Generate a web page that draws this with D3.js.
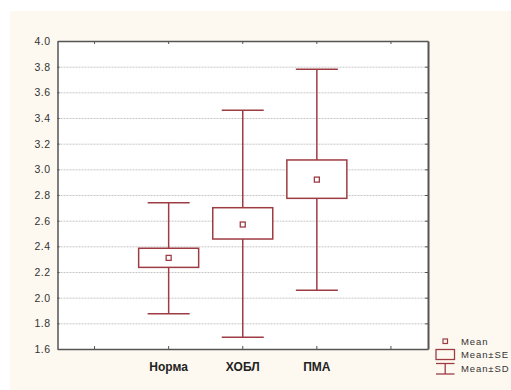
<!DOCTYPE html>
<html><head><meta charset="utf-8">
<script src="https://cdn.jsdelivr.net/npm/d3@7"></script>
<style>body{margin:0;background:#fff}svg{display:block}</style>
</head><body><svg id="c" width="511" height="390"></svg>
<script>
const slots = ["", "Норма", "ХОБЛ", "ПМА", ""];
const categories = ["Норма", "ХОБЛ", "ПМА"];
const means = [2.31, 2.57, 2.92];
const seLow = [2.236, 2.457, 2.774];
const seHigh = [2.385, 2.701, 3.073];
const sdLow = [1.875, 1.691, 2.057];
const sdHigh = [2.74, 3.46, 3.78];
const yTicks = [1.6, 1.8, 2.0, 2.2, 2.4, 2.6, 2.8, 3.0, 3.2, 3.4, 3.6, 3.8, 4.0];
const legendLabels = ["Mean", "Mean±SE", "Mean±SD"];

const col = "#9E3C44";
const svg = d3.select("#c");
svg.append("rect").attr("x",10).attr("y",11).attr("width",501).attr("height",379).attr("fill","#FDF9F0");

const L = 57.5, T = 41, R = 428, B = 349;
const x = d3.scaleBand().domain(d3.range(slots.length)).range([L, R]);
const y = d3.scaleLinear().domain([1.6, 4.0]).range([B, T]);
const cx = i => x(slots.indexOf(categories[i])) + x.bandwidth()/2;

svg.append("rect").attr("x",L).attr("y",T).attr("width",R-L).attr("height",B-T).attr("fill","#fff");

// gridlines
svg.append("g").selectAll("line").data(yTicks.filter(v => v > 1.61 && v < 3.99)).join("line")
  .attr("x1",L).attr("x2",R).attr("y1",d=>y(d)+0.5).attr("y2",d=>y(d)+0.5)
  .attr("stroke","#c6c6c6").attr("stroke-dasharray","2,1").attr("stroke-width",1);

// axes
const fmt = d3.format(".1f");
const gL = svg.append("g").attr("transform",`translate(${L},0)`)
  .call(d3.axisLeft(y).tickValues(yTicks).tickFormat(fmt).tickSizeInner(-2).tickSizeOuter(0).tickPadding(7));
const gR = svg.append("g").attr("transform",`translate(${R},0)`)
  .call(d3.axisRight(y).tickValues(yTicks).tickFormat("").tickSizeInner(-3).tickSizeOuter(0));
const gB = svg.append("g").attr("transform",`translate(0,${B})`)
  .call(d3.axisBottom(x).tickFormat(i => slots[i]).tickSizeInner(-3).tickSizeOuter(0).tickPadding(13));
const gT = svg.append("g").attr("transform",`translate(0,${T})`)
  .call(d3.axisTop(x).tickFormat("").tickSizeInner(-3).tickSizeOuter(0));
[gL,gR,gB,gT].forEach(g => {
  g.selectAll(".domain").attr("stroke","#555").attr("stroke-width",1.5);
  g.selectAll(".tick line").attr("stroke","#555");
});
gR.select(".domain").attr("stroke-width",2);
gL.selectAll("text").attr("font-family","Liberation Sans, Arial, sans-serif").attr("font-size",10.5).attr("fill","#333").attr("letter-spacing","0.5px");
gB.selectAll("text").attr("font-family","Liberation Sans, Arial, sans-serif").attr("font-size",12).attr("font-weight","bold").attr("fill","#222");

// marks
const g = svg.append("g");
categories.forEach((c,i) => {
  const xc = cx(i);
  g.append("line").attr("x1",xc).attr("x2",xc).attr("y1",y(sdHigh[i])).attr("y2",y(seHigh[i])).attr("stroke",col).attr("stroke-width",1.5);
  g.append("line").attr("x1",xc).attr("x2",xc).attr("y1",y(seLow[i])).attr("y2",y(sdLow[i])).attr("stroke",col).attr("stroke-width",1.5);
  g.append("line").attr("x1",xc-21).attr("x2",xc+21).attr("y1",y(sdHigh[i])).attr("y2",y(sdHigh[i])).attr("stroke",col).attr("stroke-width",1.5);
  g.append("line").attr("x1",xc-21).attr("x2",xc+21).attr("y1",y(sdLow[i])).attr("y2",y(sdLow[i])).attr("stroke",col).attr("stroke-width",1.5);
  g.append("rect").attr("x",xc-30).attr("width",60).attr("y",y(seHigh[i])).attr("height",y(seLow[i])-y(seHigh[i]))
    .attr("fill","#fff").attr("stroke",col).attr("stroke-width",1.5);
  g.append("rect").attr("x",xc-2.5).attr("y",y(means[i])-2.5).attr("width",5).attr("height",5)
    .attr("fill","#fff").attr("stroke",col).attr("stroke-width",1.3);
});

// legend
const lg = svg.append("g");
lg.append("rect").attr("x",443).attr("y",339).attr("width",4.5).attr("height",4.5).attr("fill","none").attr("stroke",col).attr("stroke-width",1.2);
lg.append("rect").attr("x",436).attr("y",349.5).attr("width",18.5).attr("height",10).attr("fill","none").attr("stroke",col).attr("stroke-width",1.3);
lg.append("line").attr("x1",436).attr("x2",454.5).attr("y1",363.5).attr("y2",363.5).attr("stroke",col).attr("stroke-width",1.3);
lg.append("line").attr("x1",436).attr("x2",454.5).attr("y1",374).attr("y2",374).attr("stroke",col).attr("stroke-width",1.3);
lg.append("line").attr("x1",445.2).attr("x2",445.2).attr("y1",363.5).attr("y2",374).attr("stroke",col).attr("stroke-width",1.3);
lg.selectAll("text").data(legendLabels).join("text")
  .attr("x",461).attr("y",(d,i)=>[344.5,357.5,371.5][i])
  .attr("font-family","Liberation Sans, Arial, sans-serif").attr("font-size",9.5).attr("letter-spacing","0.9px").attr("fill","#333")
  .text(d=>d);
</script></body></html>
